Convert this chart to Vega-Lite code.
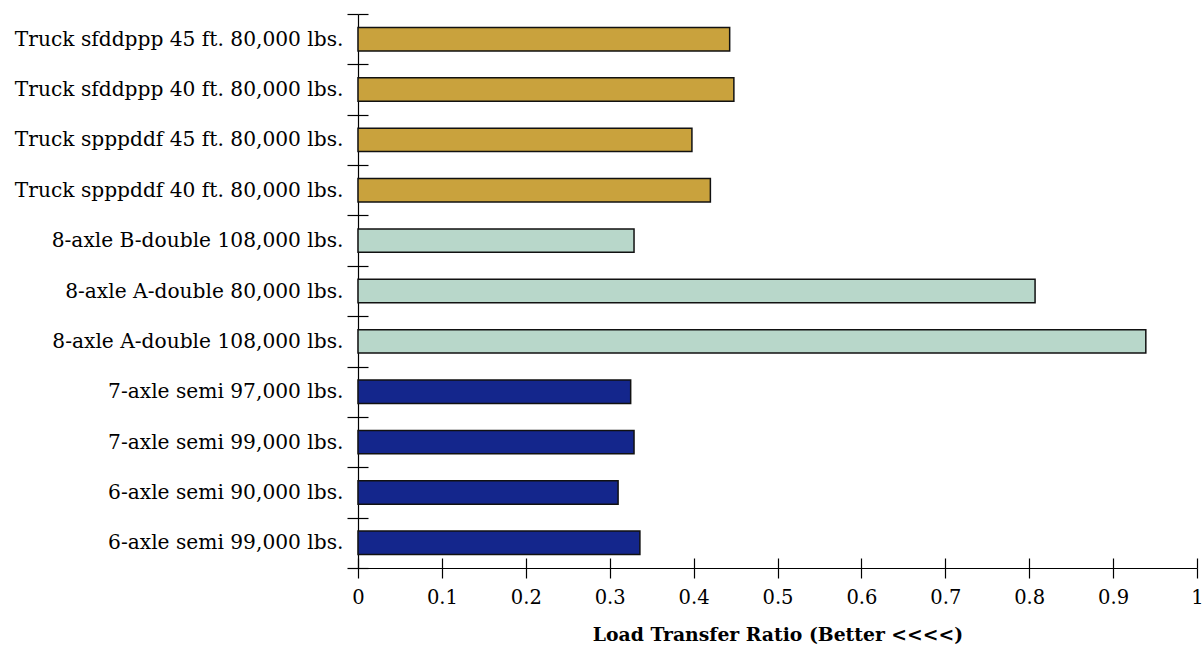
{
  "$schema": "https://vega.github.io/schema/vega-lite/v6.json",
  "autosize": "none",
  "width": 839,
  "height": 554,
  "padding": {"left": 358, "top": 14, "right": 7, "bottom": 79},
  "background": "white",
  "config": {"view": {"stroke": null}, "font": "DejaVu Serif"},
  "data": {"values": [
    {"vehicle": "Truck sfddppp 45 ft. 80,000 lbs.", "group": "Truck", "ratio": 0.443},
    {"vehicle": "Truck sfddppp 40 ft. 80,000 lbs.", "group": "Truck", "ratio": 0.448},
    {"vehicle": "Truck spppddf 45 ft. 80,000 lbs.", "group": "Truck", "ratio": 0.398},
    {"vehicle": "Truck spppddf 40 ft. 80,000 lbs.", "group": "Truck", "ratio": 0.420},
    {"vehicle": "8-axle B-double 108,000 lbs.", "group": "Double", "ratio": 0.329},
    {"vehicle": "8-axle A-double 80,000 lbs.", "group": "Double", "ratio": 0.807},
    {"vehicle": "8-axle A-double 108,000 lbs.", "group": "Double", "ratio": 0.939},
    {"vehicle": "7-axle semi 97,000 lbs.", "group": "Semi", "ratio": 0.325},
    {"vehicle": "7-axle semi 99,000 lbs.", "group": "Semi", "ratio": 0.329},
    {"vehicle": "6-axle semi 90,000 lbs.", "group": "Semi", "ratio": 0.310},
    {"vehicle": "6-axle semi 99,000 lbs.", "group": "Semi", "ratio": 0.336}
  ]},
  "resolve": {"axis": {"x": "independent", "y": "independent"}},
  "layer": [
    {
      "mark": {"type": "bar", "height": {"band": 0.465}, "stroke": "#111111", "strokeWidth": 1.5},
      "encoding": {
        "y": {"field": "vehicle", "type": "nominal", "sort": null,
          "scale": {"paddingInner": 0, "paddingOuter": 0},
          "axis": {"orient": "left", "title": null, "tickBand": "extent", "tickSize": 11, "tickColor": "#000", "domainColor": "#000", "tickWidth": 1.2, "domainWidth": 1.2,
            "labelFont": "DejaVu Serif", "labelFontSize": 20.2, "labelColor": "#000", "labelPadding": 4, "labelLimit": 400}},
        "x": {"field": "ratio", "type": "quantitative",
          "scale": {"domain": [0, 1], "nice": false},
          "axis": {"orient": "bottom", "values": [0, 0.1, 0.2, 0.3, 0.4, 0.5, 0.6, 0.7, 0.8, 0.9, 1], "format": "~g", "grid": false,
            "tickSize": 10, "tickColor": "#000", "domainColor": "#000", "tickWidth": 1.2, "domainWidth": 1.2,
            "labelFont": "DejaVu Serif", "labelFontSize": 19.5, "labelColor": "#000", "labelPadding": 10, "labelFlush": false,
            "title": "Load Transfer Ratio (Better <<<<)", "titleFont": "DejaVu Serif", "titleFontSize": 18.8, "titleFontWeight": "bold", "titleColor": "#000", "titlePadding": 19}},
        "color": {"field": "group", "type": "nominal", "legend": null,
          "scale": {"domain": ["Truck", "Double", "Semi"], "range": ["#C9A23D", "#B8D7CA", "#14268C"]}}
      }
    },
    {
      "mark": {"type": "bar", "height": {"band": 0.465}, "opacity": 0},
      "encoding": {
        "y": {"field": "vehicle", "type": "nominal", "sort": null,
          "axis": {"orient": "left", "offset": -10, "title": null, "labels": false, "domain": false, "tickBand": "extent", "tickSize": 10, "tickColor": "#000", "tickWidth": 1.2}},
        "x": {"field": "ratio", "type": "quantitative",
          "axis": {"orient": "bottom", "offset": -10, "values": [0, 0.1, 0.2, 0.3, 0.4, 0.5, 0.6, 0.7, 0.8, 0.9, 1], "grid": false, "labels": false, "domain": false, "title": null, "tickSize": 10, "tickColor": "#000", "tickWidth": 1.2}}
      }
    }
  ]
}
